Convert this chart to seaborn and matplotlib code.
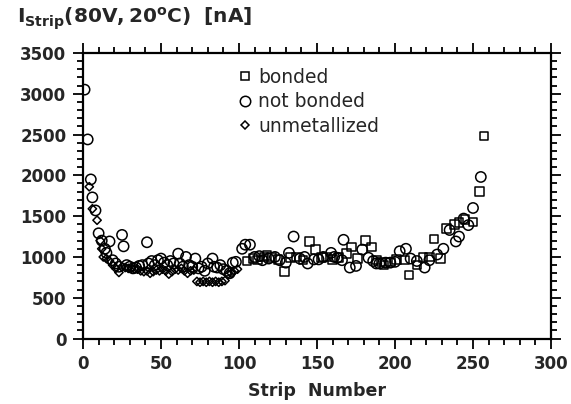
import matplotlib
matplotlib.use("Agg")
import matplotlib.pyplot as plt
from matplotlib.lines import Line2D
from matplotlib.ticker import MultipleLocator
import seaborn as sns
import pandas as pd

# ---- data ----
notbonded_strip = [1, 3, 5, 6, 8, 10, 12, 14, 15, 17, 19, 21, 23, 25, 26, 28, 30, 32, 34, 36,
                   38, 41, 42, 44, 46, 48, 50, 52, 54, 56, 58, 61, 62, 64, 66, 68, 70, 72, 74, 76,
                   78, 80, 83, 84, 86, 88, 90, 92, 94, 96, 98,
                   102, 104, 107, 110, 113, 115, 119, 123, 126, 130, 132, 135, 139, 142, 144, 148,
                   151, 154, 159, 161, 163, 166, 167, 171, 175, 179, 183, 186, 188, 190, 194, 197,
                   200, 203, 207, 210, 214, 219, 222, 227, 231, 235, 239, 241, 244, 247, 250, 255]
notbonded_current = [3050, 2440, 1950, 1730, 1570, 1290, 1200, 1100, 1050, 1190, 960, 920, 880, 1270, 1130, 900, 880, 860, 870, 890,
                     900, 1180, 920, 950, 900, 960, 980, 930, 900, 950, 920, 1040, 920, 880, 1000, 900, 880, 980, 860, 880,
                     830, 920, 980, 880, 870, 900, 850, 830, 800, 930, 940,
                     1100, 1150, 1150, 1000, 1010, 960, 980, 1000, 960, 930, 1050, 1250, 980, 1000, 920, 970,
                     970, 1000, 1050, 1000, 990, 960, 1210, 870, 890, 1090, 990, 950, 920, 920, 930, 930,
                     940, 1070, 1100, 980, 950, 870, 960, 1030, 1100, 1330, 1190, 1250, 1470, 1390, 1600, 1980]

bonded_strip = [105, 109, 112, 116, 118, 121, 125, 129, 133, 137, 141, 145, 149, 153, 156, 160, 164,
                169, 172, 176, 181, 185, 188, 191, 193, 197, 201, 206, 209, 214, 218, 222, 225, 229,
                233, 238, 241, 245, 250, 254, 257]
bonded_current = [950, 980, 960, 1000, 1020, 990, 970, 820, 990, 1000, 960, 1190, 1090, 990, 1000, 970, 990,
                  1040, 1120, 980, 1200, 1120, 960, 940, 900, 940, 970, 960, 780, 900, 990, 1000, 1220, 980,
                  1350, 1400, 1420, 1460, 1430, 1800, 2480]

unmet_strip = [4, 6, 9, 11, 12, 13, 15, 17, 19, 21, 23, 25, 27, 29, 31, 33, 35, 37, 39, 41,
               43, 45, 47, 49, 51, 53, 55, 57, 59, 61, 63, 65, 67, 69, 71, 73, 75, 77, 79, 81,
               83, 85, 87, 89, 91, 93, 95, 97, 99]
unmet_current = [1860, 1590, 1450, 1200, 1100, 1000, 980, 950, 900, 860, 810, 880, 870, 860, 860, 850, 850, 830, 820, 830,
                 800, 820, 840, 830, 850, 830, 790, 820, 850, 840, 860, 830, 800, 830, 840, 700, 690, 700, 690, 700,
                 690, 700, 690, 700, 710, 790, 800, 830, 850]

categories = ["bonded", "not bonded", "unmetallized"]
x_ticks = [0, 50, 100, 150, 200, 250, 300]
y_ticks = [0, 500, 1000, 1500, 2000, 2500, 3000, 3500]

df = pd.DataFrame({
    "strip": bonded_strip + notbonded_strip + unmet_strip,
    "current": bonded_current + notbonded_current + unmet_current,
    "type": (["bonded"] * len(bonded_strip) + ["not bonded"] * len(notbonded_strip)
             + ["unmetallized"] * len(unmet_strip)),
})

sns.set_style("ticks")
plt.rcParams["font.family"] = ["DejaVu Sans"]
plt.rcParams["mathtext.fontset"] = "dejavusans"

fig = plt.figure(figsize=(5.71, 4.04), dpi=100)
ax = fig.add_axes([0.1454, 0.162, 0.8196, 0.707])

markers = {"bonded": "s", "not bonded": "o", "unmetallized": "D"}
sizes = {"bonded": 38, "not bonded": 55, "unmetallized": 18}
sns.scatterplot(data=df, x="strip", y="current", style="type", size="type",
                markers=markers, sizes=sizes, style_order=categories, size_order=categories,
                facecolor="none", edgecolor="black", linewidth=1.1, legend=False, ax=ax)

ax.set_xlim(0, 300)
ax.set_ylim(0, 3500)
ax.set_xticks(x_ticks)
ax.set_yticks(y_ticks)
ax.xaxis.set_minor_locator(MultipleLocator(10))
ax.yaxis.set_minor_locator(MultipleLocator(100))
ax.tick_params(which="both", direction="out", top=True, right=True, width=1.3, color="black")
ax.tick_params(which="major", length=7, labelsize=12, pad=5)
ax.tick_params(which="minor", length=4)
for lab in ax.get_xticklabels() + ax.get_yticklabels():
    lab.set_fontweight("bold")
for s in ax.spines.values():
    s.set_linewidth(1.6)
    s.set_color("black")

ax.set_xlabel("Strip  Number", fontsize=12.5, fontweight="bold", labelpad=6)
ax.set_ylabel("")

fig.text(0.03, 0.953, r"$\mathbf{I_{Strip}(80V,20^{o}C)\ \ [nA]}$", fontsize=14.5,
         ha="left", va="center")

handles = [Line2D([], [], linestyle="none", marker="s", markersize=6, markerfacecolor="none",
                  markeredgecolor="black", markeredgewidth=1.1),
           Line2D([], [], linestyle="none", marker="o", markersize=7.5, markerfacecolor="none",
                  markeredgecolor="black", markeredgewidth=1.1),
           Line2D([], [], linestyle="none", marker="D", markersize=4.5, markerfacecolor="none",
                  markeredgecolor="black", markeredgewidth=1.1)]
ax.legend(handles, categories, loc="upper left", bbox_to_anchor=(0.31, 0.975), frameon=False,
          fontsize=13.5, handletextpad=0.2, labelspacing=0.3, handlelength=1.0, borderaxespad=0)

fig.savefig("out.png", dpi=100)
